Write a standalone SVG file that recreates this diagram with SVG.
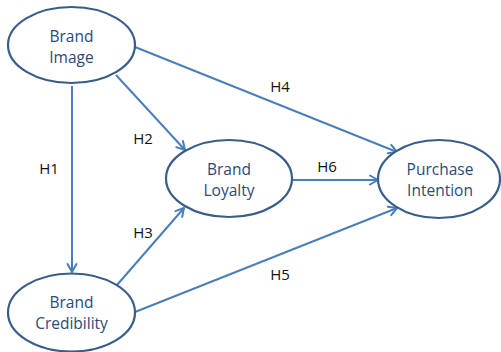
<svg xmlns="http://www.w3.org/2000/svg" width="501" height="352" viewBox="0 0 501 352">
  <style>
    .node ellipse { fill: #ffffff; stroke: #385d8a; stroke-width: 2.2; }
    .node text { font-family: "Open Sans", "Noto Sans CJK KR", sans-serif; font-size: 15.5px; fill: #2a4a78; text-anchor: middle; }
    .edge { stroke: #4a7ebb; stroke-width: 2; fill: none; marker-end: url(#arrow); }
    .label { font-family: "Open Sans", "Noto Sans CJK KR", sans-serif; font-size: 15px; fill: #111111; text-anchor: middle; }
  </style>
  <defs>
    <marker id="arrow" viewBox="0 0 12 12" refX="10" refY="6" markerWidth="12" markerHeight="12" markerUnits="userSpaceOnUse" orient="auto">
      <path d="M2,1.5 L10,6 L2,10.5" fill="none" stroke="#4a7ebb" stroke-width="2" stroke-linecap="round" stroke-linejoin="round"/>
    </marker>
  </defs>
  <rect width="501" height="352" fill="#ffffff"/>

  <g id="connectors">
    <line class="edge" x1="72" y1="86" x2="72" y2="272"/>
    <line class="edge" x1="116" y1="75" x2="185" y2="150"/>
    <line class="edge" x1="135" y1="47" x2="397" y2="152"/>
    <line class="edge" x1="292" y1="180" x2="378" y2="180"/>
    <line class="edge" x1="117" y1="285" x2="184" y2="208"/>
    <line class="edge" x1="135" y1="312" x2="397" y2="208"/>
    <text class="label" x="49" y="174">H1</text>
    <text class="label" x="143" y="144">H2</text>
    <text class="label" x="143" y="238">H3</text>
    <text class="label" x="280" y="92">H4</text>
    <text class="label" x="280" y="280">H5</text>
    <text class="label" x="327" y="172">H6</text>
  </g>

  <g id="brand-image" class="node">
    <ellipse cx="71.5" cy="45" rx="63.5" ry="38"/>
    <text x="71.5" y="42">Brand</text>
    <text x="71.5" y="63">Image</text>
  </g>

  <g id="brand-loyalty" class="node">
    <ellipse cx="229" cy="178.5" rx="63" ry="38.5"/>
    <text x="229" y="175">Brand</text>
    <text x="229" y="196">Loyalty</text>
  </g>

  <g id="purchase-intention" class="node">
    <ellipse cx="439" cy="179" rx="61" ry="39"/>
    <text x="440" y="175">Purchase</text>
    <text x="440" y="196">Intention</text>
  </g>

  <g id="brand-credibility" class="node">
    <ellipse cx="71.5" cy="312.5" rx="63.5" ry="39"/>
    <text x="71.5" y="308">Brand</text>
    <text x="71.5" y="329">Credibility</text>
  </g>
</svg>
